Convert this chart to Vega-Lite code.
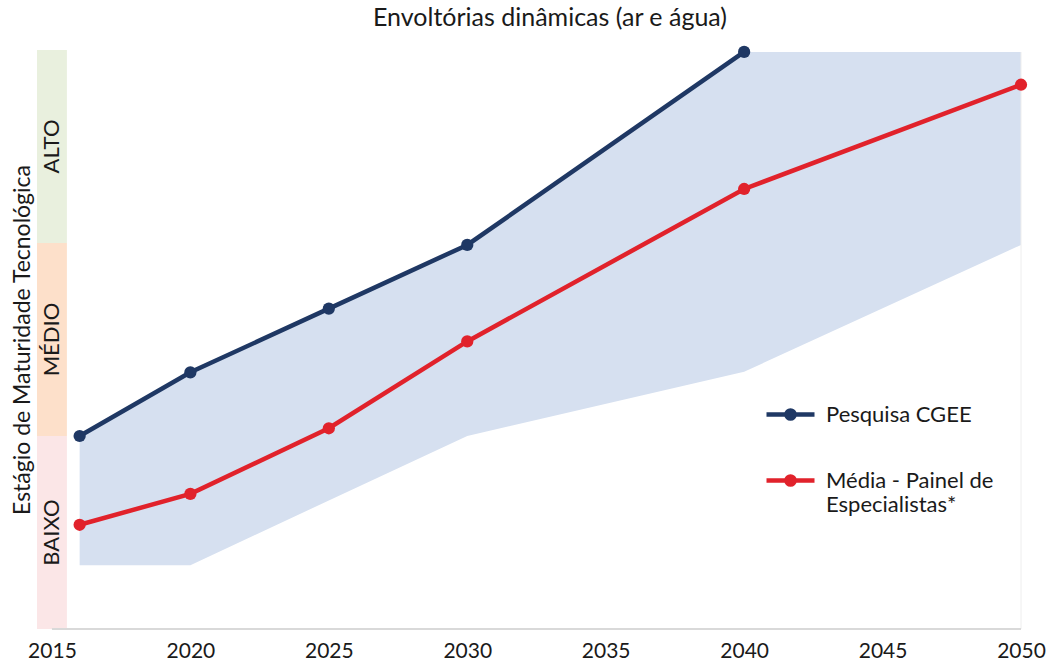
{
  "$schema": "https://vega.github.io/schema/vega-lite/v6.json",
  "width": 984,
  "height": 579,
  "autosize": {"type": "none"},
  "padding": {"left": 37, "top": 50, "right": 27, "bottom": 36},
  "background": "white",
  "title": {"text": "Envoltórias dinâmicas (ar e água)", "anchor": "middle", "dx": 21, "offset": 12, "fontSize": 25, "font": "Lato", "fontWeight": "normal", "color": "#1a1a1a"},
  "config": {
    "view": {"stroke": null},
    "font": "Lato",
    "axisX": {"domain": false, "ticks": false, "grid": false, "labelFontSize": 21, "labelFont": "Lato", "labelColor": "#1a1a1a", "labelPadding": 11, "labelFlush": false, "labelOverlap": false},
    "axisY": {"labels": false, "ticks": false, "domain": false, "grid": false, "titleFontSize": 23, "titleFont": "Lato", "titleFontWeight": "normal", "titleColor": "#1a1a1a", "titlePadding": 3}
  },
  "datasets": {
    "series": [
      {"ano": 2016, "serie": "Pesquisa CGEE", "valor": 1.0},
      {"ano": 2020, "serie": "Pesquisa CGEE", "valor": 1.33},
      {"ano": 2025, "serie": "Pesquisa CGEE", "valor": 1.66},
      {"ano": 2030, "serie": "Pesquisa CGEE", "valor": 1.99},
      {"ano": 2040, "serie": "Pesquisa CGEE", "valor": 2.99},
      {"ano": 2016, "serie": "Média - Painel de Especialistas*", "valor": 0.54},
      {"ano": 2020, "serie": "Média - Painel de Especialistas*", "valor": 0.70},
      {"ano": 2025, "serie": "Média - Painel de Especialistas*", "valor": 1.04},
      {"ano": 2030, "serie": "Média - Painel de Especialistas*", "valor": 1.49},
      {"ano": 2040, "serie": "Média - Painel de Especialistas*", "valor": 2.28},
      {"ano": 2050, "serie": "Média - Painel de Especialistas*", "valor": 2.82}
    ],
    "envoltoria": [
      {"ano": 2016, "min": 0.33, "max": 1.0},
      {"ano": 2020, "min": 0.33, "max": 1.33},
      {"ano": 2025, "min": 0.666, "max": 1.66},
      {"ano": 2030, "min": 1.0, "max": 1.99},
      {"ano": 2040, "min": 1.333, "max": 2.99},
      {"ano": 2050, "min": 1.99, "max": 2.99}
    ],
    "faixas": [
      {"nivel": "ALTO", "de": 2, "ate": 3, "centro": 2.5},
      {"nivel": "MÉDIO", "de": 1, "ate": 2, "centro": 1.5},
      {"nivel": "BAIXO", "de": 0, "ate": 1, "centro": 0.5}
    ]
  },
  "layer": [
    {
      "data": {"name": "faixas"},
      "mark": {"type": "rect"},
      "encoding": {
        "x": {"datum": 2014.46, "type": "quantitative", "scale": {"domain": [2014.46, 2050], "nice": false, "zero": false}},
        "x2": {"datum": 2015.54},
        "y": {"field": "de", "type": "quantitative", "scale": {"domain": [0, 3], "nice": false, "zero": false}},
        "y2": {"field": "ate"},
        "fill": {"field": "nivel", "type": "nominal", "scale": {"domain": ["ALTO", "MÉDIO", "BAIXO"], "range": ["#e9f0de", "#fde0ca", "#fbe6e7"]}, "legend": null}
      }
    },
    {
      "data": {"name": "envoltoria"},
      "mark": {"type": "area", "color": "#d6e0f0", "opacity": 1},
      "encoding": {
        "x": {"field": "ano", "type": "quantitative", "scale": {"domain": [2014.46, 2050], "nice": false, "zero": false},
          "axis": {"values": [2015, 2020, 2025, 2030, 2035, 2040, 2045, 2050], "format": "d", "title": "", "labelFontSize": 21}},
        "y": {"field": "min", "type": "quantitative", "scale": {"domain": [0, 3], "nice": false, "zero": false},
          "axis": {"title": "Estágio de Maturidade Tecnológica", "titleFontSize": 23, "titleFont": "Lato", "titleFontWeight": "normal", "titlePadding": 3}},
        "y2": {"field": "max"}
      }
    },
    {
      "data": {"values": [{}]},
      "mark": {"type": "rule", "color": "#eeeeee", "strokeWidth": 1},
      "encoding": {
        "x": {"datum": 2050, "type": "quantitative"},
        "y": {"datum": 0, "type": "quantitative"},
        "y2": {"datum": 2.99}
      }
    },
    {
      "data": {"values": [{}]},
      "mark": {"type": "rule", "color": "#d9d9d9", "strokeWidth": 2},
      "encoding": {
        "x": {"datum": 2015, "type": "quantitative"},
        "x2": {"datum": 2050},
        "y": {"datum": 0, "type": "quantitative"}
      }
    },
    {
      "data": {"name": "faixas"},
      "mark": {"type": "text", "angle": 270, "align": "center", "baseline": "middle", "fontSize": 22, "font": "Lato", "color": "#1a1a1a"},
      "encoding": {
        "x": {"datum": 2015, "type": "quantitative"},
        "y": {"field": "centro", "type": "quantitative"},
        "text": {"field": "nivel"}
      }
    },
    {
      "data": {"name": "series"},
      "mark": {"type": "line", "strokeWidth": 4.5},
      "encoding": {
        "x": {"field": "ano", "type": "quantitative"},
        "y": {"field": "valor", "type": "quantitative"},
        "color": {"field": "serie", "type": "nominal", "sort": null,
          "scale": {"domain": ["Pesquisa CGEE", "Média - Painel de Especialistas*"], "range": ["#1f3864", "#e1222b"]},
          "legend": {"title": null, "orient": "none", "direction": "vertical", "legendX": 727, "legendY": 338, "padding": 0,
            "symbolType": "M-1,0 L1,0 M0.17,0 A0.17,0.17 0 1,1 -0.17,0 A0.17,0.17 0 1,1 0.17,0 Z",
            "symbolSize": 2304, "symbolStrokeWidth": 4.5,
            "labelFontSize": 22, "labelFont": "Lato", "labelColor": "#1a1a1a", "labelLimit": 400, "labelOffset": 9, "labelLineHeight": 28, "labelBaseline": "middle",
            "labelExpr": "datum.label == 'Pesquisa CGEE' ? ['Pesquisa CGEE', ''] : ['Média - Painel de', 'Especialistas*']",
            "rowPadding": 4}}
      }
    },
    {
      "data": {"name": "series"},
      "mark": {"type": "point", "filled": true, "size": 150, "opacity": 1},
      "encoding": {
        "x": {"field": "ano", "type": "quantitative"},
        "y": {"field": "valor", "type": "quantitative"},
        "color": {"field": "serie", "type": "nominal", "sort": null}
      }
    }
  ]
}
